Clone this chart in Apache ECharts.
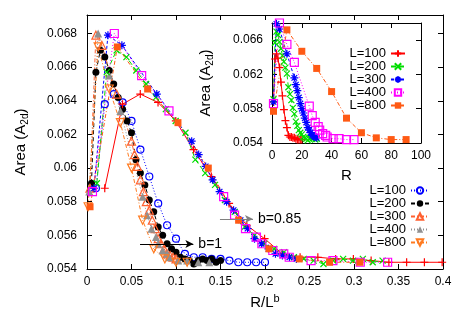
<!DOCTYPE html>
<html>
<head>
<meta charset="utf-8">
<script src="https://cdn.jsdelivr.net/npm/echarts/dist/echarts.min.js"></script>
<style>
  html, body { margin: 0; padding: 0; background: #fff; }
  #chart { width: 463px; height: 324px; }
</style>
</head>
<body>
<div id="chart"></div>
<script>
// system sizes
const sizes = [100, 200, 300, 400, 800]
// exponents of the two collapses, R/L^b
const bLeft = 1
const bRight = 0.85

// radius R and area A_2d, one pair per L
const r100 = [1, 2, 3, 4, 5, 6, 7, 8, 9, 10, 11, 12, 13, 14, 15, 16, 17, 18, 19, 20]
const a100 = [0.0588, 0.0638, 0.0644, 0.0639, 0.0628, 0.0611, 0.0595, 0.0579, 0.0566, 0.0558,
  0.0549, 0.0547, 0.0547, 0.0546, 0.0546, 0.0545, 0.0544, 0.0544, 0.0544, 0.0544]

const r200 = [1, 2, 3, 4, 5, 6, 7, 8, 9, 10, 11, 12, 13, 14, 15, 16, 17, 18, 19, 20,
  21, 22, 23, 24, 25, 26, 27, 28, 29, 30]
const a200 = [0.0591, 0.0657, 0.0670, 0.0666, 0.0658, 0.0650, 0.0642, 0.0635, 0.0628, 0.0621,
  0.0605, 0.0597, 0.0590, 0.0581, 0.0574, 0.0565, 0.0560, 0.0555, 0.0552, 0.0550,
  0.0547, 0.0546, 0.0545, 0.0543, 0.0545, 0.0546, 0.0545, 0.0546, 0.0544, 0.0545]

const r300 = [1, 3, 5, 10, 15, 16, 17, 18, 19, 20, 21, 22, 23, 24, 25, 26, 27, 28, 29, 30]
const a300 = [0.0588, 0.0679, 0.0673, 0.0644, 0.0616, 0.0608, 0.0601, 0.0593, 0.0586, 0.0580,
  0.0575, 0.0569, 0.0564, 0.0558, 0.0555, 0.0552, 0.0549, 0.0548, 0.0547, 0.0546]

const r400 = [1, 5, 10, 15, 25, 27, 29, 31, 32, 34, 36, 37, 41, 45, 50, 55]
const a400 = [0.0586, 0.0680, 0.0655, 0.0634, 0.0583, 0.0572, 0.0564, 0.0559, 0.0555, 0.0551,
  0.0549, 0.0547, 0.0545, 0.0545, 0.0544, 0.0544]

const r800 = [1, 10, 20, 30, 40, 50, 60, 70, 80, 90]
const a800 = [0.0577, 0.0672, 0.0647, 0.0627, 0.0600, 0.0569, 0.0552, 0.0546, 0.0544, 0.0544]

const rList = [r100, r200, r300, r400, r800]
const aList = [a100, a200, a300, a400, a800]

// arrows with their labels (data coords)
const arrowLeft = [[0.0596, 0.05548], [0.1195, 0.05548]]
const arrowRight = [[0.1494, 0.05697], [0.1865, 0.05697]]

const FONT = '"Liberation Sans", Arial, sans-serif'
const PLUS = 'path://M0,5L10,5M5,0L5,10'
const CROSS = 'path://M0,0L10,10M10,0L0,10'
const STAR = 'path://M0,5L10,5M5,0L5,10M1.5,1.5L8.5,8.5M8.5,1.5L1.5,8.5'

// styles for the raw (inset) and b=0.85 curves
const styleRaw = [
  { color: '#ff0000', symbol: PLUS, size: 8, fill: false, dash: 'solid' },
  { color: '#00dd00', symbol: CROSS, size: 6, fill: false, dash: [5, 3] },
  { color: '#0000ff', symbol: STAR, size: 8, fill: false, dash: [3, 2] },
  { color: '#ff00ff', symbol: 'rect', size: 8, fill: false, dash: [1, 2] },
  { color: '#ff5a14', symbol: 'rect', size: 7, fill: true, dash: [4, 2, 1, 2] }
]
// styles for the b=1 curves
const styleB1 = [
  { color: '#0000ff', symbol: 'circle', size: 7, fill: false, dash: [1, 2] },
  { color: '#000000', symbol: 'circle', size: 7, fill: true, dash: [4, 3] },
  { color: '#ff6030', symbol: 'triangle', size: 8, fill: false, dash: [4, 2, 1, 2] },
  { color: '#909090', symbol: 'triangle', size: 8, fill: true, dash: [1, 2] },
  { color: '#ff7a20', symbol: 'triangle', size: 8, fill: false, dash: [4, 2, 1, 2], rotate: 180 }
]

function makeSeries (name, data, st, axis) {
  return {
    name: name,
    type: 'line',
    xAxisIndex: axis,
    yAxisIndex: axis,
    data: data,
    symbol: st.symbol,
    symbolSize: st.size,
    symbolRotate: st.rotate || 0,
    showSymbol: true,
    showAllSymbol: true,
    clip: false,
    lineStyle: { color: st.color, width: 1, type: st.dash },
    itemStyle: {
      color: st.fill ? st.color : 'rgba(255,255,255,0)',
      borderColor: st.color,
      borderWidth: st.fill ? 0 : 1.2
    },
    emphasis: { disabled: true }
  }
}

const series = []
sizes.forEach((L, i) => {
  const pts = rList[i].map((r, k) => [r / Math.pow(L, bLeft), aList[i][k]])
  series.push(makeSeries('a:L=' + L, pts, styleB1[i], 0))
})
sizes.forEach((L, i) => {
  const pts = rList[i].map((r, k) => [r / Math.pow(L, bRight), aList[i][k]])
  series.push(makeSeries('b:L=' + L, pts, styleRaw[i], 0))
})
// inset: raw R on axes index 2
sizes.forEach((L, i) => {
  const pts = rList[i].map((r, k) => [r, aList[i][k]])
  series.push(makeSeries('c:L=' + L, pts, styleRaw[i], 2))
})

// arrows hang on the first series
series[0].markLine = {
  silent: true,
  symbol: ['none', 'arrow'],
  symbolSize: [6, 8],
  animation: false,
  data: [
    [
      { coord: arrowLeft[0], lineStyle: { color: '#000', width: 1, type: 'solid' },
        label: { show: true, position: 'end', formatter: 'b=1', fontSize: 14, fontFamily: FONT, color: '#000', distance: 5 } },
      { coord: arrowLeft[1] }
    ],
    [
      { coord: arrowRight[0], lineStyle: { color: '#808080', width: 1, type: 'solid' },
        label: { show: true, position: 'end', formatter: 'b=0.85', fontSize: 14, fontFamily: FONT, color: '#000', distance: 5 } },
      { coord: arrowRight[1] }
    ]
  ]
}

const num = v => String(parseFloat(v.toFixed(4)))
const tick = { show: true, inside: true, length: 5, lineStyle: { color: '#000', width: 1 } }
const line = { show: true, onZero: false, lineStyle: { color: '#000', width: 1 } }
const lab = { fontSize: 12, fontFamily: FONT, color: '#000' }

const chart = echarts.init(document.getElementById('chart'))
chart.setOption({
  animation: false,
  backgroundColor: '#fff',
  grid: [
    { left: 87, right: 20, top: 15, bottom: 55, outerBoundsMode: 'none', containLabel: false },
    { left: 272, right: 42, top: 23, bottom: 181, outerBoundsMode: 'none', containLabel: false }
  ],
  xAxis: [
    {
      type: 'value', gridIndex: 0, min: 0, max: 0.4, interval: 0.05,
      axisLine: line, axisTick: tick, splitLine: { show: false },
      axisLabel: Object.assign({ margin: 7, formatter: num }, lab),
      name: 'R/L{p|b}', nameLocation: 'middle', nameGap: 24, nameMoveOverlap: false,
      nameTextStyle: { fontSize: 15, fontFamily: FONT, color: '#000',
        rich: { p: { fontSize: 11, fontFamily: FONT, color: '#000', verticalAlign: 'top', padding: [0, 0, 8, 0] } } }
    },
    {
      type: 'value', gridIndex: 0, position: 'top', min: 0, max: 0.4, interval: 0.05,
      axisLine: line, axisTick: tick, axisLabel: { show: false }, splitLine: { show: false }
    },
    {
      type: 'value', gridIndex: 1, min: 0, max: 100, interval: 20,
      axisLine: line, axisTick: tick, splitLine: { show: false },
      axisLabel: Object.assign({ margin: 7 }, lab),
      name: 'R', nameLocation: 'middle', nameGap: 25, nameMoveOverlap: false,
      nameTextStyle: { fontSize: 15, fontFamily: FONT, color: '#000' }
    },
    {
      type: 'value', gridIndex: 1, position: 'top', min: 0, max: 100, interval: 20,
      axisLine: line, axisTick: tick, axisLabel: { show: false }, splitLine: { show: false }
    }
  ],
  yAxis: [
    {
      type: 'value', gridIndex: 0, min: 0.054, max: 0.0691, interval: 0.002,
      axisLine: line, axisTick: tick, splitLine: { show: false },
      axisLabel: Object.assign({ margin: 10, formatter: v => v > 0.0685 ? '' : num(v) }, lab),
      name: 'Area (A{s|2d})', nameLocation: 'middle', nameGap: 57, nameRotate: 90, nameMoveOverlap: false,
      nameTextStyle: { fontSize: 15, fontFamily: FONT, color: '#000',
        rich: { s: { fontSize: 10, fontFamily: FONT, color: '#000', verticalAlign: 'bottom', padding: [9, 0, 0, 0] } } }
    },
    {
      type: 'value', gridIndex: 0, position: 'right', min: 0.054, max: 0.0691, interval: 0.002,
      axisLine: line, axisTick: tick, axisLabel: { show: false }, splitLine: { show: false }
    },
    {
      type: 'value', gridIndex: 1, min: 0.054, max: 0.068, interval: 0.004,
      axisLine: line, axisTick: tick, splitLine: { show: false },
      axisLabel: Object.assign({ margin: 9, formatter: v => v > 0.0665 ? '' : num(v) }, lab),
      name: 'Area (A{s|2d})', nameLocation: 'middle', nameGap: 57, nameRotate: 90, nameMoveOverlap: false,
      nameTextStyle: { fontSize: 15, fontFamily: FONT, color: '#000',
        rich: { s: { fontSize: 10, fontFamily: FONT, color: '#000', verticalAlign: 'bottom', padding: [9, 0, 0, 0] } } }
    },
    {
      type: 'value', gridIndex: 1, position: 'right', min: 0.054, max: 0.068, interval: 0.004,
      axisLine: line, axisTick: tick, axisLabel: { show: false }, splitLine: { show: false }
    }
  ],
  legend: [
    {
      data: sizes.map(L => 'a:L=' + L),
      orient: 'vertical', right: 33, top: 184, align: 'right', padding: 0,
      itemWidth: 18, itemHeight: 8, itemGap: 0,
      selectedMode: false,
      formatter: n => n.split(':')[1],
      textStyle: { fontSize: 13, fontFamily: FONT, color: '#000', lineHeight: 13 }
    },
    {
      data: sizes.map(L => 'c:L=' + L),
      orient: 'vertical', right: 57, top: 47, align: 'right', padding: 0,
      itemWidth: 14, itemHeight: 8, itemGap: 0,
      selectedMode: false,
      formatter: n => n.split(':')[1],
      textStyle: { fontSize: 13, fontFamily: FONT, color: '#000', lineHeight: 13 }
    }
  ],
  series: series
})
</script>
</body>
</html>
